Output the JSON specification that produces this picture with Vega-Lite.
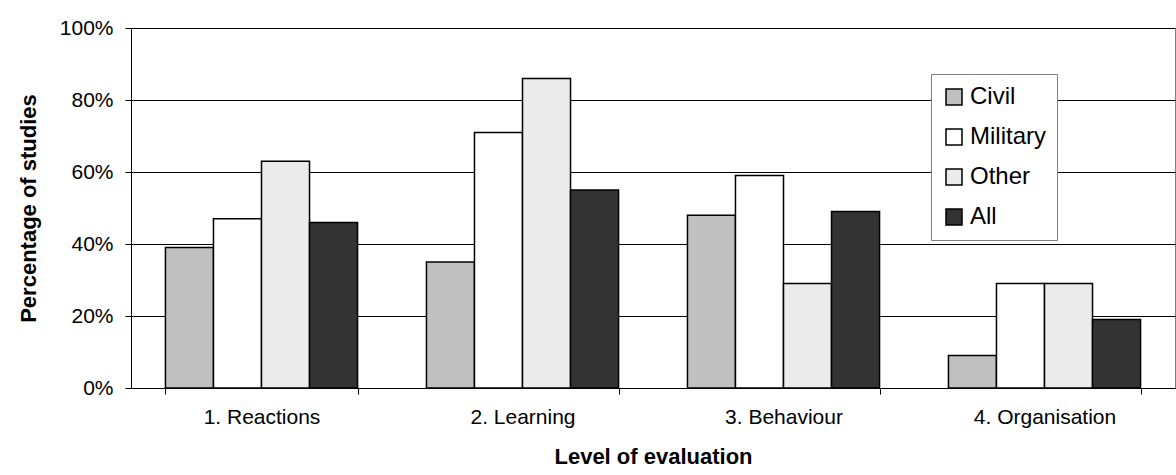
{
  "$schema": "https://vega.github.io/schema/vega-lite/v6.json",
  "width": 1044,
  "height": 360,
  "autosize": {"type": "none"},
  "padding": {"left": 131, "top": 28, "right": 1, "bottom": 87},
  "background": "white",
  "config": {
    "font": "Liberation Sans",
    "view": {"stroke": "#808080", "strokeWidth": 1}
  },
  "data": {
    "values": [
      {"level": "1. Reactions", "group": "Civil", "value": 0.39},
      {"level": "1. Reactions", "group": "Military", "value": 0.47},
      {"level": "1. Reactions", "group": "Other", "value": 0.63},
      {"level": "1. Reactions", "group": "All", "value": 0.46},
      {"level": "2. Learning", "group": "Civil", "value": 0.35},
      {"level": "2. Learning", "group": "Military", "value": 0.71},
      {"level": "2. Learning", "group": "Other", "value": 0.86},
      {"level": "2. Learning", "group": "All", "value": 0.55},
      {"level": "3. Behaviour", "group": "Civil", "value": 0.48},
      {"level": "3. Behaviour", "group": "Military", "value": 0.59},
      {"level": "3. Behaviour", "group": "Other", "value": 0.29},
      {"level": "3. Behaviour", "group": "All", "value": 0.49},
      {"level": "4. Organisation", "group": "Civil", "value": 0.09},
      {"level": "4. Organisation", "group": "Military", "value": 0.29},
      {"level": "4. Organisation", "group": "Other", "value": 0.29},
      {"level": "4. Organisation", "group": "All", "value": 0.19}
    ]
  },
  "mark": {"type": "bar", "stroke": "black", "strokeWidth": 1.5},
  "encoding": {
    "x": {
      "field": "level",
      "type": "nominal",
      "sort": ["1. Reactions", "2. Learning", "3. Behaviour", "4. Organisation"],
      "scale": {"paddingInner": 0.264, "paddingOuter": 0.132},
      "axis": {
        "title": "Level of evaluation",
        "titleFont": "Liberation Sans",
        "titleFontSize": 22,
        "titleFontWeight": "bold",
        "titleColor": "black",
        "titleY": 68,
        "titleBaseline": "middle",
        "labelAngle": 0,
        "labelFontSize": 21,
        "labelColor": "black",
        "labelPadding": 12,
        "tickBand": "extent",
        "tickSize": 6,
        "tickColor": "black",
        "domainColor": "black",
        "domainWidth": 1,
        "grid": false
      }
    },
    "xOffset": {
      "field": "group",
      "type": "nominal",
      "sort": ["Civil", "Military", "Other", "All"],
      "scale": {"paddingInner": 0, "paddingOuter": 0}
    },
    "y": {
      "field": "value",
      "type": "quantitative",
      "scale": {"domain": [0, 1], "nice": false},
      "axis": {
        "title": "Percentage of studies",
        "titleFont": "Liberation Sans",
        "titleFontSize": 22,
        "titleFontWeight": "bold",
        "titleColor": "black",
        "titleX": -103,
        "titleBaseline": "middle",
        "values": [0, 0.2, 0.4, 0.6, 0.8, 1],
        "format": ".0%",
        "labelFontSize": 21,
        "labelColor": "black",
        "labelPadding": 12,
        "tickSize": 6,
        "tickColor": "black",
        "domainColor": "black",
        "gridColor": "black",
        "gridWidth": 1,
        "gridOpacity": 1
      }
    },
    "fill": {
      "field": "group",
      "type": "nominal",
      "sort": ["Civil", "Military", "Other", "All"],
      "scale": {
        "domain": ["Civil", "Military", "Other", "All"],
        "range": ["#c0c0c0", "#ffffff", "#ebebeb", "#333333"]
      },
      "legend": {
        "title": null,
        "orient": "none",
        "legendX": 800,
        "legendY": 46,
        "fillColor": "white",
        "strokeColor": "#808080",
        "padding": 11,
        "symbolType": "square",
        "symbolSize": 256,
        "symbolStrokeColor": "black",
        "symbolStrokeWidth": 1.5,
        "symbolOpacity": 1,
        "labelFontSize": 24,
        "labelColor": "black",
        "labelOffset": 4,
        "labelLimit": 300,
        "rowPadding": 16
      }
    }
  }
}
